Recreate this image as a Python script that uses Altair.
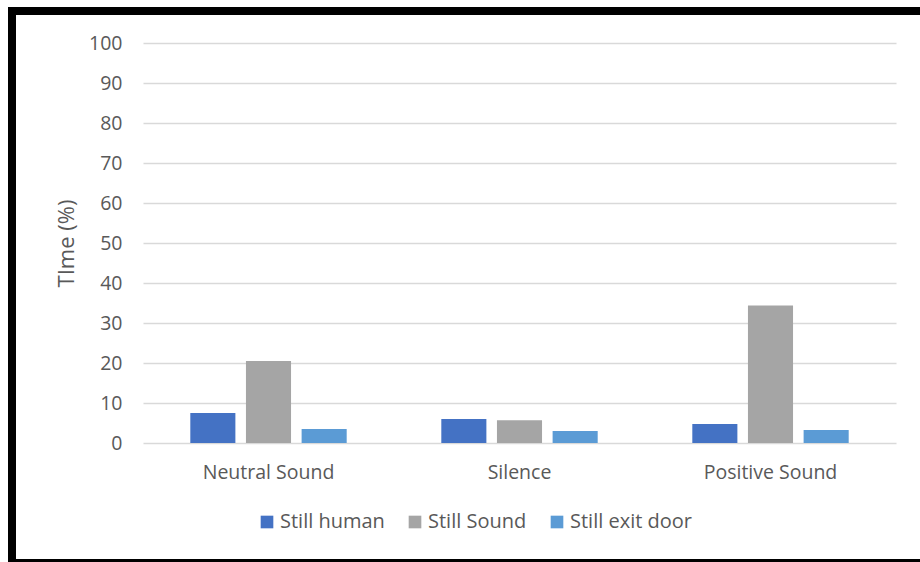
import altair as alt
import pandas as pd

# Share of time (%) spent still, per condition and target
conditions = ["Neutral Sound", "Silence", "Positive Sound"]
targets = ["Still human", "Still Sound", "Still exit door"]
still_human = [7.5, 6.0, 4.75]
still_sound = [20.5, 5.7, 34.4]
still_exit_door = [3.5, 3.0, 3.25]
colors = ["#4472C4", "#A5A5A5", "#5B9BD5"]

rows = []
for i, cond in enumerate(conditions):
    for target, series in zip(targets, [still_human, still_sound, still_exit_door]):
        rows.append({"condition": cond, "target": target, "value": series[i]})
df = pd.DataFrame(rows)

FONT = "Open Sans"
GREY = "#595959"
W, H = 753, 400

bars = alt.Chart(df).mark_bar().encode(
    x=alt.X("condition:N", sort=conditions, title=None,
            scale=alt.Scale(paddingInner=0, paddingOuter=0),
            axis=alt.Axis(labelAngle=0, ticks=False, domain=False,
                          labelFontSize=19.5, labelColor=GREY, labelFont=FONT,
                          labelPadding=20)),
    xOffset=alt.XOffset("target:N", sort=targets,
                        scale=alt.Scale(paddingInner=0.19, paddingOuter=0.85)),
    y=alt.Y("value:Q", title="TIme (%)",
            scale=alt.Scale(domain=[0, 100]),
            axis=alt.Axis(values=list(range(0, 101, 10)), ticks=False, domain=False,
                          labelFontSize=19.5, labelColor=GREY, labelFont=FONT,
                          labelPadding=21, gridColor="#D9D9D9", gridWidth=1.5,
                          titleFontSize=22, titleColor=GREY, titleFont=FONT,
                          titleFontWeight="normal", titlePadding=10)),
    color=alt.Color("target:N", sort=targets,
                    scale=alt.Scale(domain=targets, range=colors),
                    legend=alt.Legend(title=None, orient="none", direction="horizontal",
                                      legendX=114, legendY=469,
                                      symbolType="square", symbolSize=160,
                                      symbolStrokeWidth=0, labelFontSize=20,
                                      labelColor=GREY, labelFont=FONT,
                                      labelOffset=3, columnPadding=20)),
)

# black frame around the whole figure
frame = alt.Chart(pd.DataFrame({"k": [0]})).mark_rect(
    fill=None, stroke="black", strokeWidth=8, clip=False
).encode(
    x=alt.value(-131), x2=alt.value(790),
    y=alt.value(-32), y2=alt.value(520),
)

chart = alt.layer(bars, frame).properties(
    width=W, height=H,
    padding={"left": 143, "top": 43, "right": 24, "bottom": 119},
    autosize=alt.AutoSizeParams(type="none"),
    background="white",
).configure_view(stroke=None)

chart.save("out.html", embed_options={"renderer": "svg", "actions": False})
